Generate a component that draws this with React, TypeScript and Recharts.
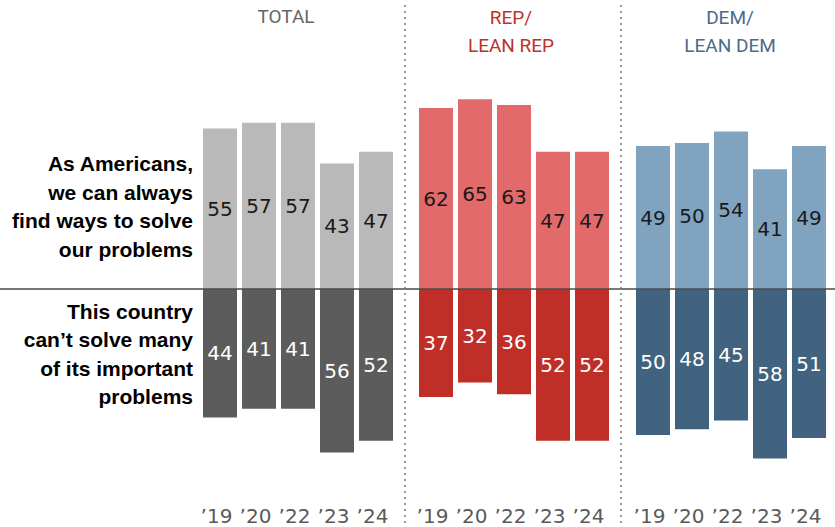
import React from "react"
import { BarChart, Bar, XAxis, YAxis, LabelList } from "recharts"

const years = ["’19", "’20", "’22", "’23", "’24"]

const totalAgree = [55, 57, 57, 43, 47]
const totalCant = [44, 41, 41, 56, 52]
const repAgree = [62, 65, 63, 47, 47]
const repCant = [37, 32, 36, 52, 52]
const demAgree = [49, 50, 54, 41, 49]
const demCant = [50, 48, 45, 58, 51]

const NUM_FONT = "'DejaVu Sans', sans-serif"
const HEAD_FONT = "Roboto, sans-serif"
const LABEL_FONT = "'Liberation Sans', Arial, sans-serif"
const W = 835
const H = 527
const CHART_W = 195
const AXIS_H = 40

function build(agree: number[], cant: number[]) {
  return years.map((y, i) => ({ year: y, agree: agree[i], cant: -cant[i] }))
}

const YearTick = ({ x, y, payload }: any) => (
  <text x={x - 3} y={y + 28} textAnchor="middle" fontSize={20} fill="#5a5a5a" fontFamily={NUM_FONT}>
    {payload.value}
  </text>
)

interface PanelProps {
  left: number
  agree: number[]
  cant: number[]
  light: string
  dark: string
}

function Panel({ left, agree, cant, light, dark }: PanelProps) {
  const data = build(agree, cant)
  return (
    <div style={{ position: "absolute", left, top: 0 }}>
      <BarChart width={CHART_W} height={H} data={data} stackOffset="sign"
                margin={{ top: 0, right: 0, left: 0, bottom: 0 }}>
        <XAxis dataKey="year" axisLine={false} tickLine={false} height={AXIS_H}
               tick={<YearTick />} interval={0} />
        <YAxis hide domain={[-67.8, 99]} allowDataOverflow />
        <Bar dataKey="agree" stackId="s" fill={light} barSize={34} isAnimationActive={false}>
          <LabelList dataKey="agree" position="center" fill="#1a1a1a" fontSize={20} fontFamily={NUM_FONT} />
        </Bar>
        <Bar dataKey="cant" stackId="s" fill={dark} barSize={34} isAnimationActive={false}>
          <LabelList dataKey="cant" position="center" fill="#fff" fontSize={20} fontFamily={NUM_FONT}
                     formatter={(v: any) => Math.abs(Number(v))} />
        </Bar>
      </BarChart>
    </div>
  )
}

const leftTop = ["As Americans,", "we can always", "find ways to solve", "our problems"]
const leftBottom = ["This country", "can’t solve many", "of its important", "problems"]

export default function App() {
  return (
    <div style={{ position: "absolute", left: 0, top: 0, width: W, height: H, background: "#fff" }}>
      <Panel left={199.5} agree={totalAgree} cant={totalCant} light="#b9b9b9" dark="#5c5c5c" />
      <Panel left={415.5} agree={repAgree} cant={repCant} light="#e26a6a" dark="#bf2e27" />
      <Panel left={632.5} agree={demAgree} cant={demCant} light="#80a3c0" dark="#41637f" />
      <svg width={W} height={H} style={{ position: "absolute", left: 0, top: 0, pointerEvents: "none" }}>
        <line x1={0} x2={W} y1={289} y2={289} stroke="#4a4a4a" strokeWidth={1.3} />
        <line x1={405} x2={405} y1={5} y2={H} stroke="#777" strokeWidth={1.5} strokeDasharray="2 4" />
        <line x1={621} x2={621} y1={5} y2={H} stroke="#777" strokeWidth={1.5} strokeDasharray="2 4" />
        <g fontFamily={HEAD_FONT} fontSize={19} textAnchor="middle">
          <text x={286} y={23} fill="#666">TOTAL</text>
          <text x={511} y={24} fill="#c0312b">REP/</text>
          <text x={511} y={52} fill="#c0312b">LEAN REP</text>
          <text x={730} y={24} fill="#4a6b8a">DEM/</text>
          <text x={730} y={52} fill="#4a6b8a">LEAN DEM</text>
        </g>
        <g fontFamily={LABEL_FONT} fontSize={21} fontWeight="bold" textAnchor="end" fill="#000">
          {leftTop.map((t, i) => (
            <text key={t} x={193} y={171 + i * 28.7}>{t}</text>
          ))}
          {leftBottom.map((t, i) => (
            <text key={t} x={193} y={319 + i * 28.3}>{t}</text>
          ))}
        </g>
      </svg>
    </div>
  )
}
